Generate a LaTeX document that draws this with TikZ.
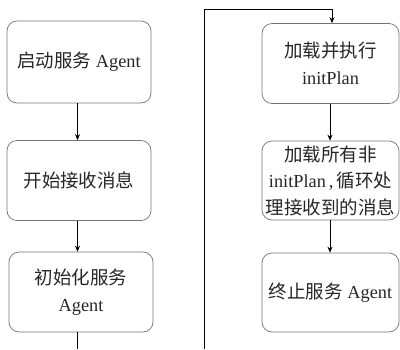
\documentclass[tikz,border=0pt]{standalone}
\usepackage{fontspec}
\setmainfont{Liberation Serif}
\newfontfamily\cjk[Scale=1.01]{Noto Sans CJK SC}
\usetikzlibrary{arrows.meta}
\begin{document}
\begin{tikzpicture}[x=1pt,y=-1pt,
  box/.style={draw=black!55, line width=0.7pt, rounded corners=10pt, inner sep=0pt,
    align=center, text=black!85, font=\fontsize{18.3}{26.5}\selectfont},
  lbox/.style={box, minimum width=144pt, minimum height=80pt},
  rbox/.style={box, minimum width=137pt, minimum height=79pt},
  conn/.style={draw=black, line width=0.7pt, -{Stealth[length=6pt,width=5pt]}},
  plain/.style={draw=black, line width=0.7pt}]
\useasboundingbox (0,0) rectangle (400,349);
\node[lbox, minimum height=82pt] (b1) at (79,62) {{\cjk 启动服务} Agent};
\node[lbox] (b2) at (79,180.5) {{\cjk 开始接收消息}};
\node[lbox] (b3) at (81,292) {{\cjk 初始化服务}\\Agent};
\node[rbox, minimum height=80pt] (b4) at (330.5,63.5) {{\cjk 加载并执行}\\initPlan};
\node[rbox] (b5) at (330.5,180.5) {{\cjk 加载所有非}\\initPlan\,,\,{\cjk 循环处}\\{\cjk 理接收到的消息}};
\node[rbox] (b6) at (330.5,292.5) {{\cjk 终止服务} Agent};
\coordinate (e3) at (77.5,349);
\coordinate (s4) at (204,349);
\coordinate (t4) at (204,9);
\coordinate (u4) at (332,9);
\draw[conn] (b1.south -| 77.5,0) -- (b2.north -| 77.5,0);
\draw[conn] (b2.south -| 77.5,0) -- (b3.north -| 77.5,0);
\draw[plain] (b3.south -| 77.5,0) -- (e3);
\draw[conn] (s4) -- (t4) -- (u4) -- (b4.north -| u4);
\draw[conn] (b4.south -| 330,0) -- (b5.north -| 330,0);
\draw[conn] (b5.south -| 330,0) -- (b6.north -| 330,0);
\end{tikzpicture}
\end{document}
